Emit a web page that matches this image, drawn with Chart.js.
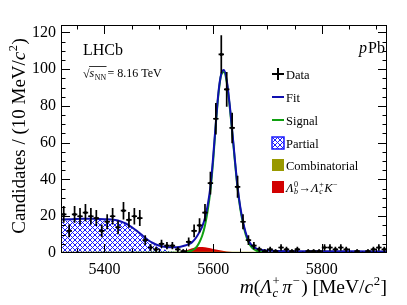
<!DOCTYPE html>
<html>
<head>
<meta charset="utf-8">
<script src="https://cdn.jsdelivr.net/npm/chart.js@4.4.0/dist/chart.umd.min.js"></script>
<style>
  html, body { margin: 0; padding: 0; background: #fff; }
  #c { display: block; }
</style>
</head>
<body>
<canvas id="c" width="407" height="305"></canvas>
<script>
// bin centres (10 MeV bins) and candidate counts
var binCentres = [5325, 5335, 5345, 5355, 5365, 5375, 5385, 5395, 5405, 5415,
                  5425, 5435, 5445, 5455, 5465, 5475, 5485, 5495, 5505, 5515,
                  5525, 5535, 5545, 5555, 5565, 5575, 5585, 5595, 5605, 5615,
                  5625, 5635, 5645, 5655, 5665, 5675, 5685, 5695, 5705, 5715,
                  5725, 5735, 5745, 5755, 5765, 5775, 5785, 5795, 5805, 5815,
                  5825, 5835, 5845, 5855, 5865, 5875, 5885, 5895, 5905, 5915];
var counts = [21, 12, 21, 20, 22, 20, 19, 12, 17, 20,
              14, 23, 18, 20, 19, 7, 3, 2, 5, 4,
              4, 2, 1, 6, 12, 15, 22, 38, 73, 108,
              89, 68, 36, 17, 7, 4, 2, 1, 2, 1,
              3, 2, 1, 2, 0, 1, 1, 1, 3, 3,
              2, 3, 2, 0, 1, 0, 1, 2, 3, 2];

// fit components
var fitMass = [5320, 5340, 5360, 5380, 5400, 5420, 5430, 5440, 5450, 5460, 5470, 5480, 5490,
               5500, 5510, 5520, 5530, 5540, 5550, 5560, 5565, 5570, 5575, 5580, 5585, 5590,
               5595, 5600, 5605, 5610, 5615, 5620, 5625, 5630, 5635, 5640, 5645, 5650, 5655,
               5660, 5665, 5670, 5675, 5680, 5690, 5700, 5720, 5760, 5800, 5850, 5920];
var fitTotal = [18.2, 18.4, 18.6, 18.6, 18.4, 17.9, 17.1, 15.9, 14.1, 11.9, 9.5, 7.1, 5.3,
                4.1, 3.4, 3.1, 3.1, 3.4, 4.2, 5.5, 7, 9, 11.5, 14.5, 19, 26,
                36, 52, 71, 88, 97.5, 99.5, 94, 82, 67, 51, 36, 25, 17,
                11, 7, 4.5, 3.2, 2.4, 1.6, 1.3, 1.1, 1.0, 0.95, 0.9, 0.85];
var sigMass = [5320, 5540, 5550, 5560, 5565, 5570, 5575, 5580, 5585, 5590, 5595, 5600, 5605,
               5610, 5615, 5620, 5625, 5630, 5635, 5640, 5645, 5650, 5655, 5660, 5665, 5670,
               5675, 5680, 5690, 5700, 5720, 5920];
var sigValues = [0, 0.2, 0.5, 1.2, 2, 3.5, 6, 9.5, 15, 23, 34, 50, 70,
                 87, 97, 98.5, 93, 81, 66, 50, 35, 24, 16, 10, 6, 3.5,
                 2, 1.2, 0.5, 0.2, 0.05, 0];
var partMass = [5320, 5340, 5360, 5380, 5400, 5420, 5430, 5440, 5450, 5460, 5470, 5480, 5490,
                5500, 5510, 5520, 5530, 5540, 5550, 5560, 5920];
var partValues = [17.6, 17.8, 18.0, 18.0, 17.8, 17.2, 16.4, 15.2, 13.4, 11.2, 8.8, 6.4, 4.5,
                  3.0, 1.9, 1.1, 0.6, 0.3, 0.1, 0, 0];
var combMass = [5320, 5620, 5920];
var combValues = [0.7, 0.65, 0.6];
var kaonMass = [5320, 5530, 5540, 5550, 5560, 5570, 5580, 5590, 5600, 5610, 5620, 5630,
                5640, 5650, 5660, 5670, 5920];
var kaonValues = [0, 0, 0.4, 1.3, 2.4, 3.1, 3.2, 2.8, 2.2, 1.6, 1.1, 0.7,
                  0.4, 0.2, 0.05, 0, 0];

var xMajor = [5400, 5600, 5800];
var yMajor = [0, 20, 40, 60, 80, 100, 120];

function pairs(xs, ys) {
  return xs.map(function (x, i) { return { x: x, y: ys[i] }; });
}

function hatchPattern(ctx) {
  var p = document.createElement('canvas');
  p.width = 5; p.height = 5;
  var g = p.getContext('2d');
  g.fillStyle = '#ffffff';
  g.fillRect(0, 0, 5, 5);
  g.strokeStyle = '#1a1aff';
  g.lineWidth = 1;
  g.beginPath();
  g.moveTo(0, 0); g.lineTo(5, 5);
  g.moveTo(5, 0); g.lineTo(0, 5);
  g.stroke();
  return ctx.createPattern(p, 'repeat');
}

var SERIF = '"Liberation Serif", "DejaVu Serif", serif';
function font(sz, it) { return (it ? 'italic ' : '') + sz + 'px ' + SERIF; }

function partWidth(ctx, p, sz) {
  if (p.t !== undefined) { ctx.font = font(sz, p.i); return ctx.measureText(p.t).width + (p.pad || 0); }
  var s = sz * 0.65, a = 0, b = 0;
  if (p.sup) { ctx.font = font(s, p.supi); a = ctx.measureText(p.sup).width; }
  if (p.sub) { ctx.font = font(s, p.subi); b = ctx.measureText(p.sub).width; }
  return Math.max(a, b) + 1 + (p.pad || 0);
}

function drawRich(ctx, x, y, parts, sz, align) {
  var total = 0;
  parts.forEach(function (p) { total += partWidth(ctx, p, sz); });
  if (align === 'right') x -= total;
  else if (align === 'center') x -= total / 2;
  ctx.textAlign = 'left';
  ctx.textBaseline = 'alphabetic';
  parts.forEach(function (p) {
    var w = partWidth(ctx, p, sz);
    if (p.t !== undefined) {
      ctx.font = font(sz, p.i);
      ctx.fillText(p.t, x, y);
    } else {
      var s = sz * 0.65;
      if (p.sup) { ctx.font = font(s, p.supi); ctx.fillText(p.sup, x + 0.5, y - sz * 0.4); }
      if (p.sub) { ctx.font = font(s, p.subi); ctx.fillText(p.sub, x + 0.5, y + sz * 0.22); }
    }
    x += w;
  });
  return total;
}

var frame = {
  id: 'frame',
  afterDatasetsDraw: function (chart) {
    var ctx = chart.ctx, a = chart.chartArea;
    var xs = chart.scales.x, ys = chart.scales.y;
    ctx.save();
    // error bars
    ctx.beginPath();
    ctx.rect(a.left, a.top, a.right - a.left, a.bottom - a.top);
    ctx.clip();
    ctx.strokeStyle = '#000';
    ctx.lineWidth = 1.7;
    binCentres.forEach(function (m, i) {
      var n = counts[i];
      if (n <= 0) return;
      var e = Math.sqrt(n);
      var px = xs.getPixelForValue(m);
      ctx.beginPath();
      ctx.moveTo(px, ys.getPixelForValue(n - e));
      ctx.lineTo(px, ys.getPixelForValue(n + e));
      ctx.moveTo(xs.getPixelForValue(m - 5), ys.getPixelForValue(n));
      ctx.lineTo(xs.getPixelForValue(m + 5), ys.getPixelForValue(n));
      ctx.stroke();
    });
    ctx.restore();
  },
  afterDraw: function (chart) {
    var ctx = chart.ctx, a = chart.chartArea;
    var xs = chart.scales.x, ys = chart.scales.y;
    ctx.save();
    ctx.strokeStyle = '#000';
    ctx.fillStyle = '#000';
    ctx.lineWidth = 1;
    ctx.strokeRect(a.left + 0.5, a.top + 0.5, a.right - a.left - 1, a.bottom - a.top - 1);

    // ticks on all four sides, pointing inwards
    ctx.beginPath();
    for (var m = 5350; m < 5920; m += 50) {
      var px = Math.round(xs.getPixelForValue(m)) + 0.5;
      var len = xMajor.indexOf(m) >= 0 ? 9 : 4.5;
      ctx.moveTo(px, a.bottom); ctx.lineTo(px, a.bottom - len);
      ctx.moveTo(px, a.top); ctx.lineTo(px, a.top + len);
    }
    for (var v = 5; v < 124; v += 5) {
      var py = Math.round(ys.getPixelForValue(v)) + 0.5;
      var l2 = yMajor.indexOf(v) >= 0 ? 9 : 4.5;
      ctx.moveTo(a.left, py); ctx.lineTo(a.left + l2, py);
      ctx.moveTo(a.right, py); ctx.lineTo(a.right - l2, py);
    }
    ctx.stroke();

    // tick labels
    ctx.font = font(16);
    ctx.textAlign = 'center';
    ctx.textBaseline = 'alphabetic';
    xMajor.forEach(function (m) { ctx.fillText(String(m), xs.getPixelForValue(m), 274); });
    ctx.textAlign = 'right';
    ctx.textBaseline = 'middle';
    yMajor.forEach(function (v) { ctx.fillText(String(v), 56, ys.getPixelForValue(v)); });

    // axis titles
    drawRich(ctx, 387, 293, [
      { t: 'm', i: 1 }, { t: '(' }, { t: 'Λ', i: 1 }, { sup: '+', sub: 'c', subi: 1, pad: 2 },
      { t: 'π', i: 1 }, { sup: '−', pad: 1 }, { t: ') [MeV/' }, { t: 'c', i: 1 }, { sup: '2' }, { t: ']' }
    ], 19.5, 'right');
    ctx.save();
    ctx.translate(25, 136);
    ctx.rotate(-Math.PI / 2);
    drawRich(ctx, 0, 0, [
      { t: 'Candidates / (10 MeV/' }, { t: 'c', i: 1 }, { sup: '2' }, { t: ')' }
    ], 19, 'center');
    ctx.restore();

    // labels inside the frame
    ctx.font = font(16);
    ctx.textAlign = 'left';
    ctx.textBaseline = 'alphabetic';
    ctx.fillText('LHCb', 83, 55);
    drawRich(ctx, 385, 53, [{ t: 'p', i: 1, pad: 1 }, { t: 'Pb' }], 16, 'right');

    // sqrt(s_NN) = 8.16 TeV
    ctx.font = font(12);
    ctx.fillText('√', 83, 78);
    var rx = 83 + ctx.measureText('√').width;
    var w = drawRich(ctx, rx, 77, [{ t: 's', i: 1 }, { sub: 'NN' }], 12);
    ctx.beginPath();
    ctx.lineWidth = 0.8;
    ctx.moveTo(rx - 0.5, 66.5); ctx.lineTo(rx + w, 66.5);
    ctx.stroke();
    drawRich(ctx, rx + w + 1, 77, [{ t: '= 8.16 TeV' }], 12);

    // legend
    var lx = 278, tx = 286;
    var rows = [74, 97, 120, 143, 165, 187];
    ctx.lineWidth = 2;
    ctx.strokeStyle = '#000';
    ctx.beginPath();
    ctx.moveTo(lx, rows[0] - 6); ctx.lineTo(lx, rows[0] + 6);
    ctx.moveTo(lx - 6, rows[0]); ctx.lineTo(lx + 6, rows[0]);
    ctx.stroke();
    ctx.strokeStyle = '#1010b0';
    ctx.beginPath(); ctx.moveTo(lx - 6, rows[1]); ctx.lineTo(lx + 6, rows[1]); ctx.stroke();
    ctx.strokeStyle = '#10a010';
    ctx.beginPath(); ctx.moveTo(lx - 6, rows[2]); ctx.lineTo(lx + 6, rows[2]); ctx.stroke();
    ctx.fillStyle = hatchPattern(ctx);
    ctx.fillRect(lx - 6, rows[3] - 6, 12, 12);
    ctx.strokeStyle = '#1a1aff';
    ctx.lineWidth = 1.5;
    ctx.strokeRect(lx - 6, rows[3] - 6, 12, 12);
    ctx.fillStyle = 'rgb(153,153,0)';
    ctx.fillRect(lx - 6, rows[4] - 6, 12, 12);
    ctx.fillStyle = 'rgb(210,0,0)';
    ctx.fillRect(lx - 6, rows[5] - 6, 12, 12);

    ctx.fillStyle = '#000';
    var lsz = 12.5;
    drawRich(ctx, tx, rows[0] + 4.5, [{ t: 'Data' }], lsz);
    drawRich(ctx, tx, rows[1] + 4.5, [{ t: 'Fit' }], lsz);
    drawRich(ctx, tx, rows[2] + 4.5, [{ t: 'Signal' }], lsz);
    drawRich(ctx, tx, rows[3] + 4.5, [{ t: 'Partial' }], lsz);
    drawRich(ctx, tx, rows[4] + 4.5, [{ t: 'Combinatorial' }], lsz);
    drawRich(ctx, tx, rows[5] + 4.5, [
      { t: 'Λ', i: 1 }, { sup: '0', sub: 'b', subi: 1 }, { t: '→' },
      { t: 'Λ', i: 1 }, { sup: '+', sub: 'c', subi: 1 }, { t: 'K', i: 1 }, { sup: '−' }
    ], lsz);
    ctx.restore();
  }
};

var ctx = document.getElementById('c').getContext('2d');

new Chart(ctx, {
  type: 'line',
  data: {
    datasets: [
      {
        type: 'scatter', label: 'Data', data: pairs(binCentres, counts), order: 0,
        showLine: false, pointRadius: 1.6, pointBackgroundColor: '#000', pointBorderWidth: 0
      },
      {
        label: 'Fit', data: pairs(fitMass, fitTotal), order: 1,
        borderColor: '#1010b0', borderWidth: 2, fill: false
      },
      {
        label: 'Signal', data: pairs(sigMass, sigValues), order: 2,
        borderColor: '#10a010', borderWidth: 2, fill: false
      },
      {
        label: 'Combinatorial', data: pairs(combMass, combValues), order: 3,
        borderWidth: 0, borderColor: 'rgba(0,0,0,0)', backgroundColor: 'rgb(153,153,0)', fill: 'origin'
      },
      {
        label: 'Lb2LcK', data: pairs(kaonMass, kaonValues), order: 4,
        borderWidth: 0, borderColor: 'rgba(0,0,0,0)', backgroundColor: 'rgb(210,0,0)', fill: 'origin'
      },
      {
        label: 'Partial', data: pairs(partMass, partValues), order: 5,
        borderWidth: 0, borderColor: 'rgba(0,0,0,0)', backgroundColor: hatchPattern(ctx), fill: 'origin'
      }
    ]
  },
  options: {
    responsive: false,
    animation: false,
    layout: { padding: { left: 61, right: 20, top: 25, bottom: 52 } },
    plugins: { legend: { display: false }, tooltip: { enabled: false } },
    elements: {
      point: { radius: 0 },
      line: { cubicInterpolationMode: 'monotone' }
    },
    scales: {
      x: { type: 'linear', min: 5320, max: 5920, display: false },
      y: { type: 'linear', min: 0, max: 124, display: false }
    }
  },
  plugins: [frame]
});
</script>
</body>
</html>
